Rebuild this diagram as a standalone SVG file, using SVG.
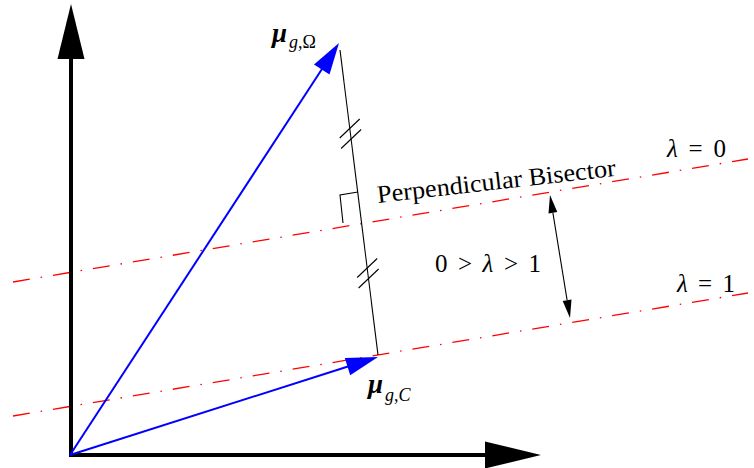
<svg xmlns="http://www.w3.org/2000/svg" width="754" height="468" viewBox="0 0 754 468">
<style>
.axis{fill:none;stroke:#000;stroke-width:4;stroke-linejoin:miter}
.vec{fill:none;stroke:#0000FF;stroke-width:2}
.vhead{fill:#0000FF;stroke:none}
.bis{fill:none;stroke:#FF0000;stroke-width:1.3;stroke-dasharray:17 11 1.5 11}
.thin{fill:none;stroke:#000;stroke-width:1.1}
.t{font-family:"Liberation Serif","Times New Roman",serif;font-size:25px;fill:#000}
.m{font-family:"Liberation Serif","Times New Roman",serif;fill:#000;font-style:italic}
</style>
<rect width="754" height="468" fill="#fff"/>
<g id="bisector-lines">
<line class="bis" x1="13" y1="282" x2="748" y2="159"/>
<line class="bis" x1="13" y1="416" x2="748" y2="293"/>
</g>
<g id="axes">
<path class="axis" d="M71,59 L71,455 L486,455"/>
<polygon points="57.5,59 84.5,59 71,4" fill="#000"/>
<polygon points="485,441.5 485,468.5 541,455" fill="#000"/>
</g>
<g id="connectors">
<g id="vec-omega">
<line class="vec" x1="70" y1="455" x2="322" y2="69"/>
<polygon class="vhead" points="339,43 329.5,74.5 314,64.5"/>
</g>
<g id="vec-c">
<line class="vec" x1="70" y1="455" x2="348" y2="366.5"/>
<polygon class="vhead" points="378,357 350.2,375.3 344.8,358.1"/>
</g>
<line id="segment" class="thin" x1="340" y1="50" x2="378" y2="355"/>
<g id="ticks" class="thin">
<line x1="339.7" y1="138" x2="359.7" y2="119"/>
<line x1="341.1" y1="148.5" x2="361.1" y2="129.5"/>
<line x1="357.2" y1="277.5" x2="377.2" y2="258.5"/>
<line x1="358.6" y1="288" x2="378.6" y2="269"/>
</g>
<polyline id="right-angle" class="thin" points="358,192 340,195 343,223"/>
<g id="lambda-range">
<line class="thin" x1="552.9" y1="212.8" x2="567.1" y2="300.2"/>
<polygon points="550,195 557.3,212.1 548.5,213.5" fill="#000"/>
<polygon points="570,318 571.5,299.5 562.7,300.9" fill="#000"/>
</g>
</g>
<g id="label-mu-omega">
<text class="m" x="272" y="42" font-size="27" font-weight="bold">μ</text>
<text class="m" x="289" y="48" font-size="18">g<tspan font-style="normal">,Ω</tspan></text>
</g>
<g id="label-mu-c">
<text class="m" x="368" y="393" font-size="27" font-weight="bold">μ</text>
<text class="m" x="385" y="401" font-size="18">g<tspan font-style="normal">,</tspan>C</text>
</g>
<g id="label-bisector">
<text class="t" transform="translate(378,203) rotate(-6.5)" textLength="240" lengthAdjust="spacingAndGlyphs">Perpendicular Bisector</text>
</g>
<g id="label-range">
<text class="t" x="435" y="272" font-size="26" textLength="106" lengthAdjust="spacing">0 &gt; <tspan font-style="italic">λ</tspan> &gt; 1</text>
</g>
<g id="label-l0">
<text class="t" x="667" y="157" font-size="26" textLength="59" lengthAdjust="spacing"><tspan font-style="italic">λ</tspan> = 0</text>
</g>
<g id="label-l1">
<text class="t" x="677" y="292" font-size="26" textLength="58" lengthAdjust="spacing"><tspan font-style="italic">λ</tspan> = 1</text>
</g>
</svg>
